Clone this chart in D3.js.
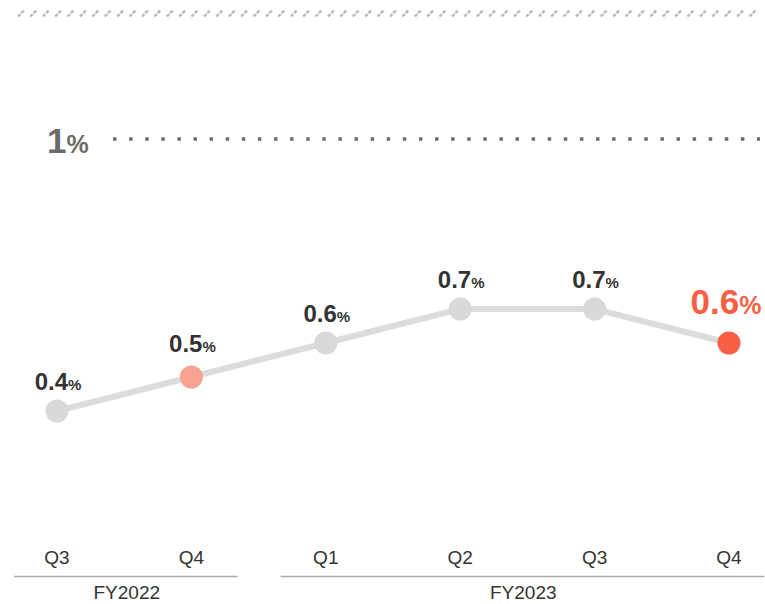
<!DOCTYPE html>
<html>
<head>
<meta charset="utf-8">
<script src="https://cdn.jsdelivr.net/npm/d3@7"></script>
<style>
  html, body { margin: 0; padding: 0; background: #fff; }
  svg { display: block; font-family: "Liberation Sans", Arial, sans-serif; }
</style>
</head>
<body>
<div id="chart"></div>
<script>
// Quarterly ratio, FY2022 Q3 through FY2023 Q4
const quarters = ["Q3", "Q4", "Q1", "Q2", "Q3", "Q4"];
const fiscalYears = ["FY2022", "FY2022", "FY2023", "FY2023", "FY2023", "FY2023"];
const values = [0.4, 0.5, 0.6, 0.7, 0.7, 0.6];
const highlight = ["none", "prior", "none", "none", "none", "current"];
const targetValue = 1;

const width = 765, height = 604;
const svg = d3.select("#chart").append("svg")
  .attr("width", width).attr("height", height);

const idx = d3.range(values.length);
const x = d3.scalePoint().domain(idx).range([57, 729]);
// Compressed upper band so the 1% target sits above the data
const y = d3.scaleLinear().domain([0, 0.7, 1]).range([547, 309, 139]);

const colors = { none: "#d9d9d9", prior: "#f8a291", current: "#fa5f46" };
const labelStyle = {
  none:    { size: 24, pct: 15, gap: 21, fill: "#333" },
  prior:   { size: 24, pct: 15, gap: 25, fill: "#333" },
  current: { size: 35, pct: 25, gap: 29, fill: colors.current }
};

// Hatched rule along the top
const defs = svg.append("defs");
const pat = defs.append("pattern").attr("id", "hatch")
  .attr("patternUnits", "userSpaceOnUse").attr("width", 12.4).attr("height", 10)
  .attr("x", 16).attr("y", 8);
pat.append("line").attr("x1", 2).attr("y1", 8.5).attr("x2", 8).attr("y2", 2.5)
  .attr("stroke", "#aaa").attr("stroke-width", 2.4)
  .attr("stroke-dasharray", "3.5 1.2");
svg.append("rect").attr("x", 16).attr("y", 8).attr("width", 744).attr("height", 10)
  .attr("fill", "url(#hatch)").attr("opacity", 0.85);

// Target line
svg.append("line")
  .attr("x1", 113).attr("x2", 760)
  .attr("y1", y(targetValue)).attr("y2", y(targetValue))
  .attr("stroke", "#6b6b6b").attr("stroke-width", 3.5)
  .attr("stroke-dasharray", "3.5 12.6");
const tl = svg.append("text")
  .attr("x", 47).attr("y", y(targetValue) + 14)
  .attr("fill", "#6b6b6b").attr("font-weight", "bold");
tl.append("tspan").attr("font-size", 35).text(targetValue);
tl.append("tspan").attr("font-size", 25).text("%");

// Series line
svg.append("path")
  .datum(idx)
  .attr("fill", "none")
  .attr("stroke", "#dcdcdc").attr("stroke-width", 6)
  .attr("d", d3.line().x(i => x(i)).y(i => y(values[i])));

// Points
svg.selectAll("circle.pt").data(idx).join("circle")
  .attr("class", "pt")
  .attr("cx", i => x(i)).attr("cy", i => y(values[i]))
  .attr("r", 11.5)
  .attr("fill", i => colors[highlight[i]]);

// Value labels
const labels = svg.selectAll("text.val").data(idx).join("text")
  .attr("class", "val")
  .attr("text-anchor", "middle")
  .attr("font-weight", "bold")
  .attr("x", i => x(i) + (highlight[i] === "current" ? -3 : 1))
  .attr("y", i => y(values[i]) - labelStyle[highlight[i]].gap)
  .attr("fill", i => labelStyle[highlight[i]].fill);
labels.append("tspan")
  .attr("font-size", i => labelStyle[highlight[i]].size)
  .text(i => values[i].toFixed(1));
labels.append("tspan")
  .attr("font-size", i => labelStyle[highlight[i]].pct)
  .text("%");

// Quarter labels
svg.selectAll("text.q").data(idx).join("text")
  .attr("class", "q")
  .attr("text-anchor", "middle")
  .attr("x", i => x(i)).attr("y", 564)
  .attr("font-size", 19).attr("fill", "#333")
  .text(i => quarters[i]);

// Fiscal year brackets
const groups = d3.groups(idx, i => fiscalYears[i]);
const step = x.step();
groups.forEach(([fy, members]) => {
  const first = members[0], last = members[members.length - 1];
  const x0 = first === 0 ? 14 : x(first) - step / 2 + 22;
  const x1 = last === values.length - 1 ? 764 : x(last) + step / 2 - 21;
  svg.append("line")
    .attr("x1", x0).attr("x2", x1)
    .attr("y1", 576.5).attr("y2", 576.5)
    .attr("stroke", "#aaa").attr("stroke-width", 1.5);
  svg.append("text")
    .attr("text-anchor", "middle")
    .attr("x", (x0 + x1) / 2 + 1)
    .attr("y", 599)
    .attr("font-size", 19).attr("fill", "#333")
    .text(fy);
});
</script>
</body>
</html>
